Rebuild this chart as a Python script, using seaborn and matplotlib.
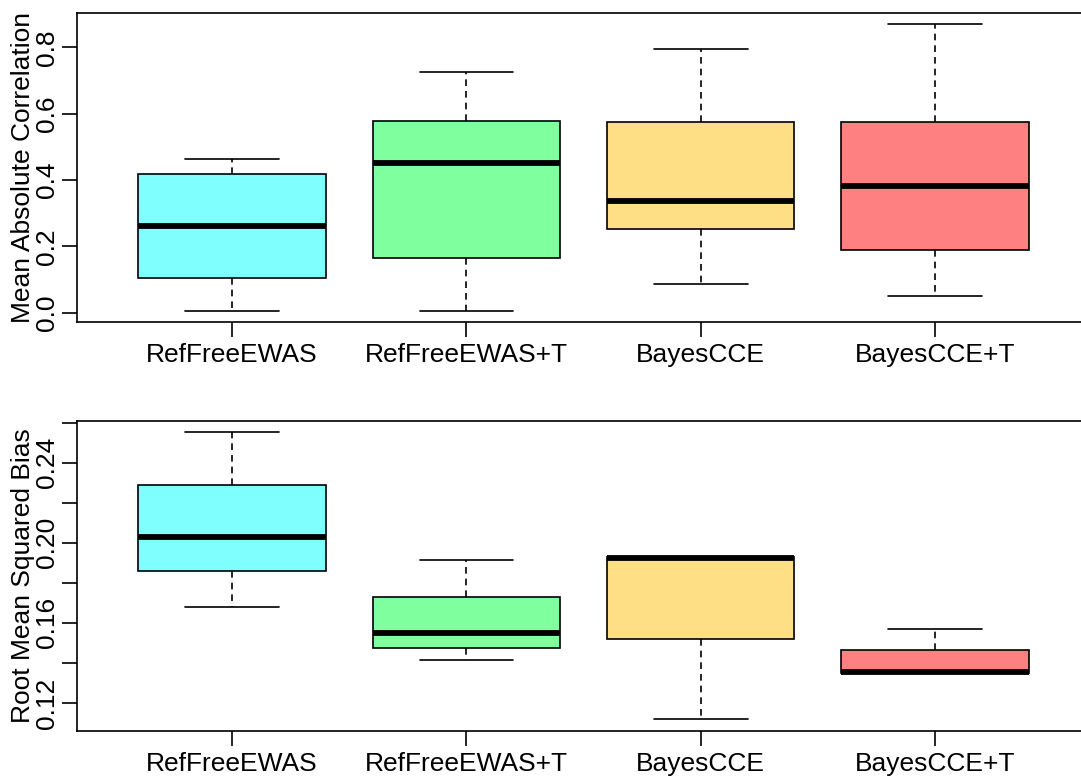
import numpy as np
import pandas as pd
import matplotlib
matplotlib.use("Agg")
import matplotlib.pyplot as plt
import seaborn as sns

methods = ["RefFreeEWAS", "RefFreeEWAS+T", "BayesCCE", "BayesCCE+T"]
colors = ["#80FFFF", "#80FF9F", "#FFDF85", "#FF8080"]

# Per-method summary values: min, lower quartile, median, upper quartile, max
corr_reffree = [0.006, 0.105, 0.261, 0.417, 0.464]
corr_reffree_t = [0.006, 0.165, 0.452, 0.578, 0.725]
corr_bayes = [0.087, 0.252, 0.336, 0.575, 0.794]
corr_bayes_t = [0.051, 0.189, 0.381, 0.575, 0.869]

rmsb_reffree = [0.168, 0.1857, 0.203, 0.229, 0.2553]
rmsb_reffree_t = [0.1414, 0.1474, 0.1548, 0.1728, 0.1914]
rmsb_bayes = [0.1119, 0.1522, 0.1923, 0.1927, 0.1927]
rmsb_bayes_t = [0.1350, 0.1352, 0.1355, 0.1463, 0.157]

corr_ticks = [0.0, 0.2, 0.4, 0.6, 0.8]
corr_labels = ["0.0", "0.2", "0.4", "0.6", "0.8"]
rmsb_ticks = [0.12, 0.14, 0.16, 0.18, 0.20, 0.22, 0.24, 0.26]
rmsb_labels = ["0.12", "", "0.16", "", "0.20", "", "0.24", ""]


def long_frame(groups):
    rows = []
    for m, vals in zip(methods, groups):
        for v in vals:
            rows.append({"method": m, "value": v})
    return pd.DataFrame(rows)


corr_df = long_frame([corr_reffree, corr_reffree_t, corr_bayes, corr_bayes_t])
rmsb_df = long_frame([rmsb_reffree, rmsb_reffree_t, rmsb_bayes, rmsb_bayes_t])

sns.set_style("ticks")
plt.rcParams["font.family"] = ["Liberation Sans", "DejaVu Sans"]
plt.rcParams["text.color"] = "black"
plt.rcParams["axes.labelcolor"] = "black"
plt.rcParams["xtick.color"] = "black"
plt.rcParams["ytick.color"] = "black"
plt.rcParams["axes.edgecolor"] = "black"

fig = plt.figure(figsize=(10.81, 7.78), dpi=100)
# plot regions run slightly past the right edge of the canvas
ax1 = fig.add_axes([0.0716, 0.5861, 0.9364, 0.3972])
ax2 = fig.add_axes([0.0716, 0.0608, 0.9364, 0.3985])


def draw(ax, df, ylabel, ticks, labels):
    sns.boxplot(
        data=df, x="method", y="value", hue="method", order=methods,
        hue_order=methods, palette=colors, saturation=1, width=0.8,
        whis=(0, 100), linecolor="black", linewidth=1.2, legend=False,
        ax=ax,
        medianprops=dict(linewidth=4.2, color="black", solid_capstyle="butt"),
        whiskerprops=dict(linestyle=(0, (4, 3)), linewidth=1.2, color="black"),
        capprops=dict(linewidth=1.2, color="black"),
        boxprops=dict(linewidth=1.2, edgecolor="black"),
    )
    ax.set_xlim(-0.66, 3.66)
    lo = min(df["value"])
    hi = max(df["value"])
    pad = (hi - lo) * 0.04
    ax.set_ylim(lo - pad, hi + pad)
    ax.set_yticks(ticks)
    ax.set_yticklabels(labels, rotation=90, va="center")
    ax.set_xlabel("")
    ax.set_ylabel(ylabel, fontsize=19, labelpad=0, color="black")
    ax.tick_params(axis="both", length=11, width=1.2, labelsize=19,
                   color="black", labelcolor="black")
    ax.tick_params(axis="y", pad=2)
    ax.tick_params(axis="x", pad=4)
    for s in ax.spines.values():
        s.set_visible(True)
        s.set_linewidth(1.2)
        s.set_color("black")


draw(ax1, corr_df, "Mean Absolute Correlation", corr_ticks, corr_labels)
draw(ax2, rmsb_df, "Root Mean Squared Bias", rmsb_ticks, rmsb_labels)

fig.savefig("out.png", dpi=100)
